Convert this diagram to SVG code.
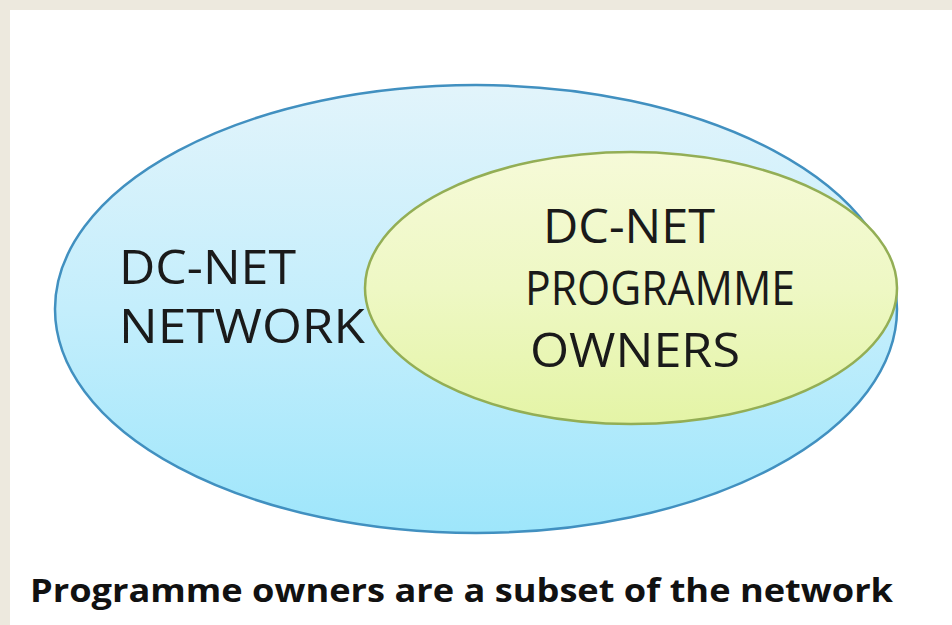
<svg xmlns="http://www.w3.org/2000/svg" width="952" height="625" viewBox="0 0 952 625">
<defs>
<linearGradient id="gBlue" x1="0" y1="0" x2="0" y2="1">
<stop offset="0" stop-color="#e2f4fb"/>
<stop offset="0.5" stop-color="#c4eefc"/>
<stop offset="1" stop-color="#9ee6fb"/>
</linearGradient>
<linearGradient id="gGreen" x1="0" y1="0" x2="0" y2="1">
<stop offset="0" stop-color="#f6fad8"/>
<stop offset="0.5" stop-color="#eef8c4"/>
<stop offset="1" stop-color="#e4f4a6"/>
</linearGradient>
</defs>
<style>
.lbl{font-family:"Open Sans","Liberation Sans",sans-serif;font-size:47px;fill:#1a1a1a}
.cap{font-family:"Open Sans","Liberation Sans",sans-serif;font-size:32px;font-weight:bold;fill:#111}
</style>
<rect x="0" y="0" width="952" height="625" fill="#ede9de"/>
<rect x="10" y="10" width="942" height="615" fill="#ffffff"/>
<g id="network">
<ellipse cx="476" cy="309" rx="421" ry="224" fill="url(#gBlue)" stroke="#4190c0" stroke-width="2.5"/>
<text class="lbl" x="119" y="284" textLength="177" lengthAdjust="spacingAndGlyphs">DC-NET</text>
<text class="lbl" x="119" y="343" textLength="246" lengthAdjust="spacingAndGlyphs">NETWORK</text>
</g>
<g id="owners">
<ellipse cx="631" cy="288" rx="266" ry="136" fill="url(#gGreen)" stroke="#93ae55" stroke-width="2.5"/>
<text class="lbl" x="543" y="243" textLength="172" lengthAdjust="spacingAndGlyphs">DC-NET</text>
<text class="lbl" x="525" y="305" textLength="270" lengthAdjust="spacingAndGlyphs">PROGRAMME</text>
<text class="lbl" x="530" y="367" textLength="210" lengthAdjust="spacingAndGlyphs">OWNERS</text>
</g>
<g id="connectors"/>
<text class="cap" x="30" y="602" textLength="863" lengthAdjust="spacingAndGlyphs">Programme  owners are a subset of the network</text>
</svg>
